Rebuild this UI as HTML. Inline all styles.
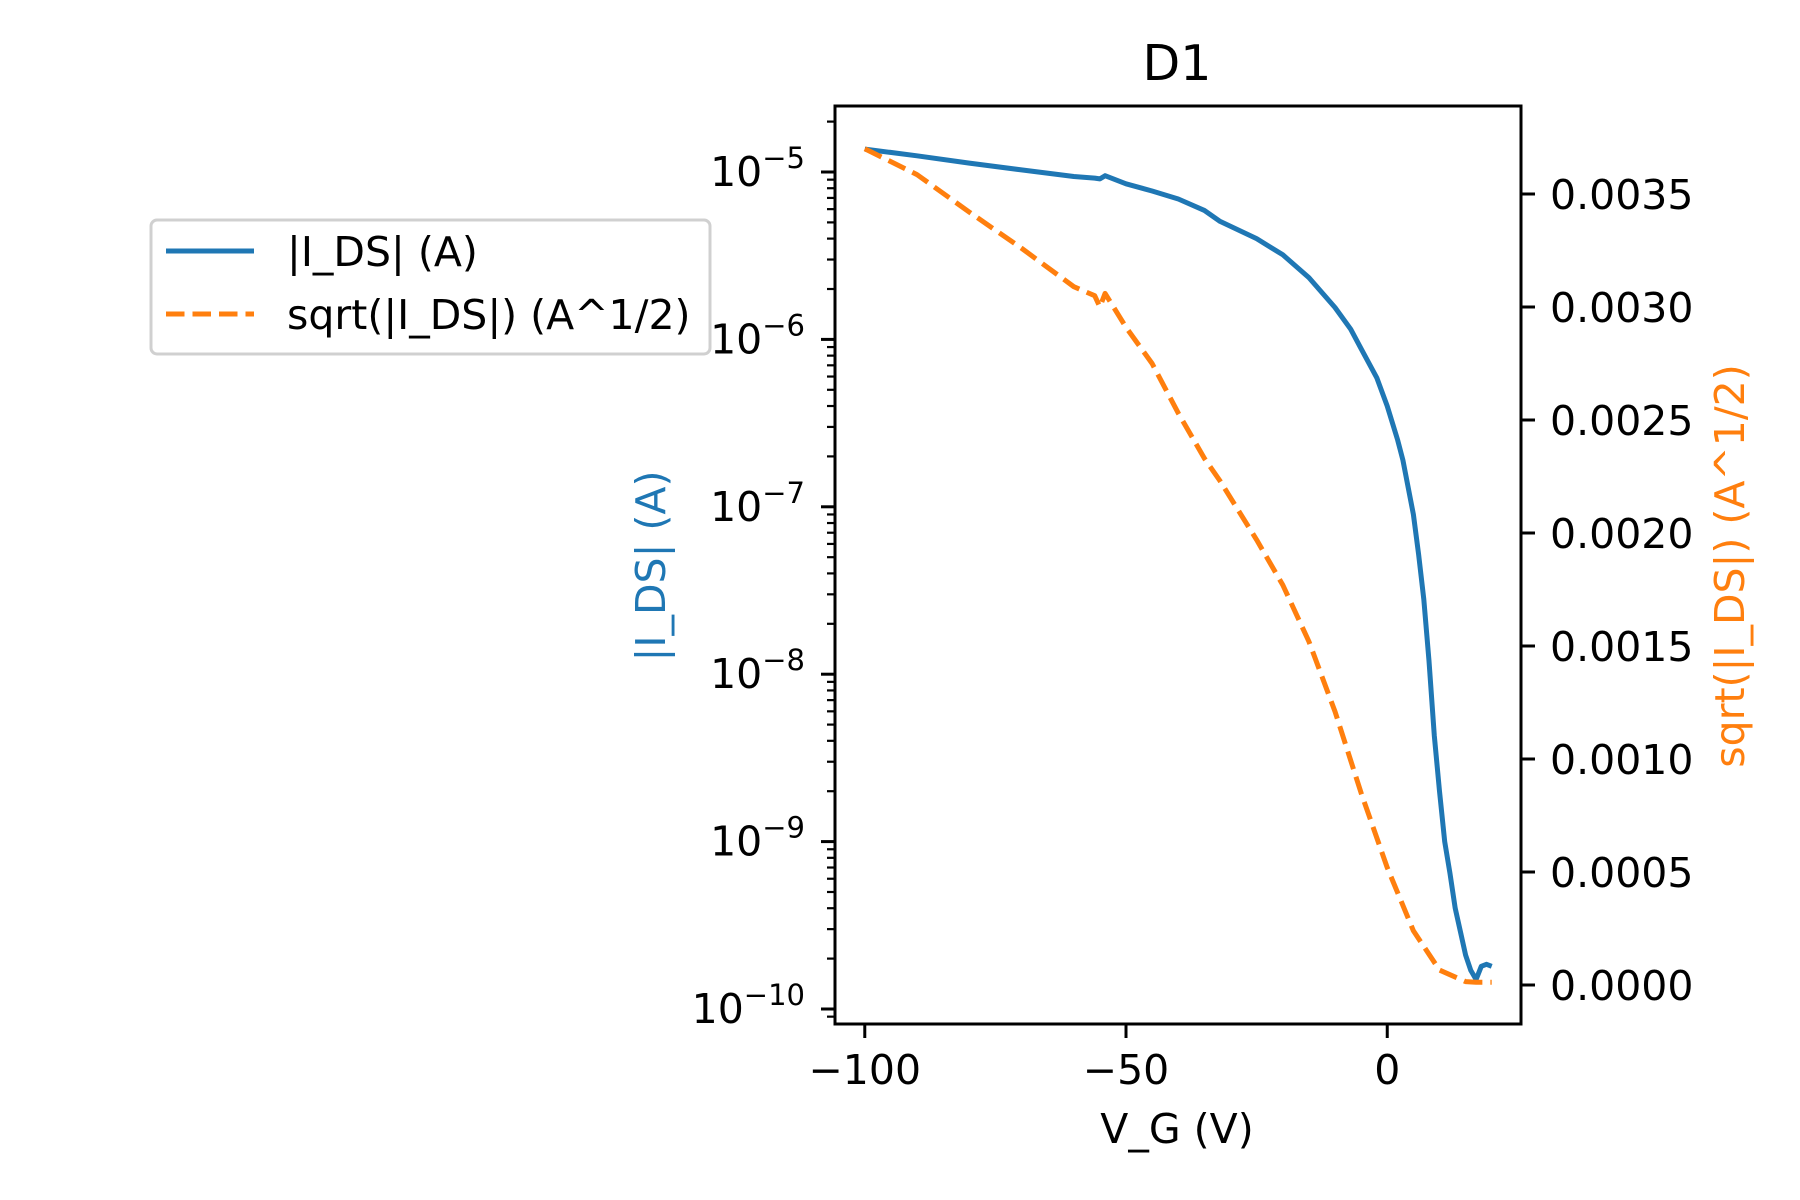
<!DOCTYPE html>
<html><head><meta charset="utf-8"><style>
html,body{margin:0;padding:0;background:#fff}
svg{display:block;font-family:"DejaVu Sans","Liberation Sans",sans-serif}
</style></head><body>
<svg id="chart" width="1800" height="1200" viewBox="0 0 1800 1200">
<rect width="1800" height="1200" fill="#fff"/>
<g id="plot"></g>
</svg>
<script>
const vgValues = [-100,-90,-80,-70,-60,-56,-55,-54,-50,-45,-40,-35,-32,-25,-20,-15,-10,-7,-5,-2,0,2,3,5,6,7,8,9,10,11,12,13,14,15,16,17,18,19,20];
const idsValues = [1.37e-5,1.25e-5,1.13e-5,1.03e-5,9.4e-6,9.2e-6,9.1e-6,9.5e-6,8.5e-6,7.7e-6,6.9e-6,5.9e-6,5.07e-6,4.0e-6,3.2e-6,2.34e-6,1.55e-6,1.15e-6,8.8e-7,5.9e-7,4.0e-7,2.5e-7,1.9e-7,9e-8,5.2e-8,2.8e-8,1.2e-8,4.3e-9,2e-9,1.0e-9,6.5e-10,4e-10,2.9e-10,2.1e-10,1.7e-10,1.5e-10,1.8e-10,1.85e-10,1.8e-10];
const sqrtVg = [-100,-90,-80,-70,-60,-56,-55,-54,-50,-45,-40,-35,-32,-25,-20,-15,-10,-5,0,5,10,15,17,20];
const sqrtValues = [3.70e-3,3.586e-3,3.42e-3,3.26e-3,3.09e-3,3.05e-3,3.0e-3,3.06e-3,2.91e-3,2.75e-3,2.53e-3,2.33e-3,2.23e-3,1.97e-3,1.77e-3,1.52e-3,1.21e-3,0.85e-3,0.52e-3,0.24e-3,0.066e-3,0.015e-3,0.012e-3,0.012e-3];
const xTicks = [-100,-50,0];
const xTickLabels = ["\u2212100","\u221250","0"];
const yLeftExps = [-5,-6,-7,-8,-9,-10];
const yRightTicks = [0,0.0005,0.001,0.0015,0.002,0.0025,0.003,0.0035];
const yRightLabels = ["0.0000","0.0005","0.0010","0.0015","0.0020","0.0025","0.0030","0.0035"];

const NS="http://www.w3.org/2000/svg";
const g=document.getElementById('plot');
const L=835,R=1521,T=106,B=1024;
const FS=41;
const X=v=>L+(v+105.7)*(R-L)/131.3;
const YL=v=>172+(-5-Math.log10(v))*167.4;
const YR=v=>985-v*(985-194)/0.0035;
function el(t,a,p){const e=document.createElementNS(NS,t);for(const k in a)e.setAttribute(k,a[k]);(p||g).appendChild(e);return e;}

let t=el('text',{x:1177,y:80,'text-anchor':'middle','font-size':49,fill:'#000'});t.textContent='D1';



const defs=el('defs',{});const cp=el('clipPath',{id:'c'},defs);el('rect',{x:L,y:T,width:R-L,height:B-T},cp);

let d=vgValues.map((v,i)=>(i?'L':'M')+X(v).toFixed(1)+' '+YL(idsValues[i]).toFixed(1)).join(' ');
let p=el('path',{d:d,fill:'none',stroke:'#1f77b4','stroke-width':5,'stroke-linejoin':'round','clip-path':'url(#c)'});


d=sqrtVg.map((v,i)=>(i?'L':'M')+X(v).toFixed(1)+' '+YR(sqrtValues[i]).toFixed(1)).join(' ');
p=el('path',{d:d,fill:'none',stroke:'#ff7f0e','stroke-width':5,'stroke-dasharray':'18.5 8','stroke-linejoin':'round','clip-path':'url(#c)'});



p=el('rect',{x:L,y:T,width:R-L,height:B-T,fill:'none',stroke:'#000','stroke-width':3});



xTicks.forEach((v,i)=>{
  el('line',{x1:X(v),x2:X(v),y1:B,y2:B+14,stroke:'#000','stroke-width':3});
  const tx=el('text',{x:X(v),y:1084,'text-anchor':'middle','font-size':FS});tx.textContent=xTickLabels[i];
  
  
});
t=el('text',{x:1177,y:1143,'text-anchor':'middle','font-size':FS});t.textContent='V_G (V)';



for(let e=-11;e<=-5;e++){for(let m=2;m<=9;m++){const y=YL(m*Math.pow(10,e));if(y>T&&y<B)el('line',{x1:L,x2:L-8,y1:y,y2:y,stroke:'#000','stroke-width':2.2});}}
yLeftExps.forEach(e=>{
  const y=YL(Math.pow(10,e));
  el('line',{x1:L,x2:L-14,y1:y,y2:y,stroke:'#000','stroke-width':3});
  const tx=el('text',{x:805,y:y+14,'text-anchor':'end','font-size':FS});
  const a=el('tspan',{},tx);a.textContent='10';
  const b=el('tspan',{dy:-18,'font-size':29},tx);b.textContent='\u2212'+(-e);
  
  
});
t=el('text',{x:0,y:0,'text-anchor':'middle','font-size':FS,fill:'#1f77b4',transform:'translate(665,566) rotate(-90)'});t.textContent='|I_DS| (A)';



yRightTicks.forEach((v,i)=>{
  const y=YR(v);
  el('line',{x1:R,x2:R+14,y1:y,y2:y,stroke:'#000','stroke-width':3});
  const tx=el('text',{x:1550,y:y+15,'font-size':FS});tx.textContent=yRightLabels[i];
  
  
});
t=el('text',{x:0,y:0,'text-anchor':'middle','font-size':FS,fill:'#ff7f0e',transform:'translate(1744,566) rotate(-90)'});t.textContent='sqrt(|I_DS|) (A^1/2)';



const lg=el('g',{});


el('rect',{x:151,y:220,width:559,height:134,rx:6,fill:'#fff','fill-opacity':0.8,stroke:'#d0d0d0','stroke-width':3},lg);
el('line',{x1:166,x2:254,y1:251,y2:251,stroke:'#1f77b4','stroke-width':5},lg);
el('line',{x1:166,x2:254,y1:314,y2:314,stroke:'#ff7f0e','stroke-width':5,'stroke-dasharray':'18.5 8'},lg);
t=el('text',{x:287,y:266,'font-size':FS},lg);t.textContent='|I_DS| (A)';


t=el('text',{x:287,y:329,'font-size':FS},lg);t.textContent='sqrt(|I_DS|) (A^1/2)';


</script>
</body></html>
